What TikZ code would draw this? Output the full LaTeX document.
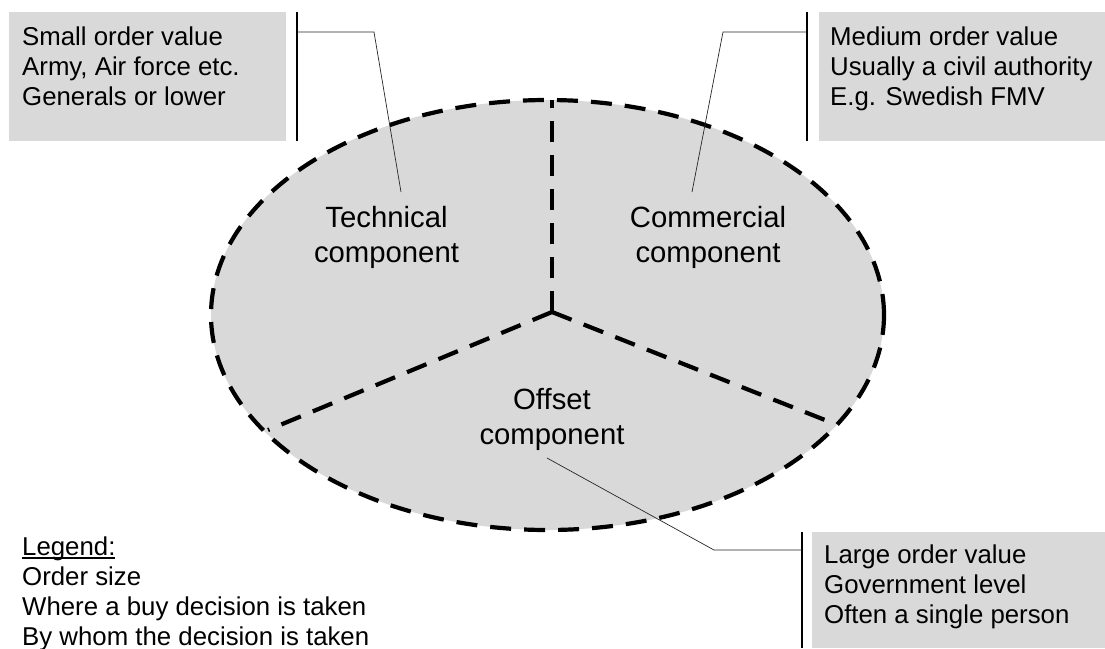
\documentclass[tikz,border=0pt]{standalone}
\usepackage{fontspec}
\setmainfont{Liberation Sans}
\definecolor{boxgray}{HTML}{D9D9D9}
\tikzset{
  infobox/.style={fill=boxgray, draw=none, inner sep=0pt, anchor=north west},
  infotext/.style={anchor=north west, inner sep=0pt, align=left, font=\fontsize{25.8}{30}\selectfont},
  comptext/.style={anchor=north, inner sep=0pt, align=center, font=\fontsize{29.3}{35}\selectfont},
  bigdash/.style={line width=4.2pt, dash pattern=on 21pt off 13pt},
  leader/.style={line width=0.7pt, black!85},
  bar/.style={line width=1.6pt, black},
}
\newcommand{\topstrut}[1]{\rule{0pt}{#1}}
\begin{document}
\begin{tikzpicture}[x=1pt,y=-1pt]
\useasboundingbox (0,0) rectangle (1105,648);
% ellipse
\fill[boxgray] (547.5,315) ellipse [x radius=336.5pt, y radius=215pt];
\coordinate (ctr) at (552,312);
\coordinate (top) at (552,100.2);
\coordinate (lend) at (268,430);
\coordinate (rend) at (825,420);
\draw[bigdash] (ctr) -- (top);
\draw[bigdash] (ctr) -- (lend);
\draw[bigdash] (ctr) -- (rend);
\draw[bigdash] (547.5,315) ellipse [x radius=336.5pt, y radius=215pt];
% component texts
\node[comptext] (tech) at (386.5,206) {\topstrut{21pt}Technical\\component};
\node[comptext] (comm) at (708,206) {\topstrut{21pt}Commercial\\component};
\node[comptext] (offs) at (552,388) {\topstrut{21pt}Offset\\component};
% boxes
\node[infobox, minimum width=277pt, minimum height=129pt] (tlbox) at (9,12) {};
\node[infotext] (tltext) at (22,25) {\topstrut{20pt}Small order value\\Army, Air force etc.\\Generals or lower};
\node[infobox, minimum width=286pt, minimum height=129pt] (trbox) at (819,12) {};
\node[infotext] (trtext) at (830,25) {\topstrut{20pt}Medium order value\\Usually a civil authority\\E.g. Swedish FMV};
\node[infobox, minimum width=293pt, minimum height=116pt] (brbox) at (812,532) {};
\node[infotext] (brtext) at (824,543) {\topstrut{20pt}Large order value\\Government level\\Often a single person};
% legend
\node[infotext] (legend) at (22,535) {\topstrut{20pt}\rlap{\rule[-3.5pt]{93pt}{1.3pt}}Legend:\\Order size\\Where a buy decision is taken\\By whom the decision is taken};
% bars
\coordinate (tlbar1) at (297,12);
\coordinate (tlbar2) at (297,141);
\draw[bar] (tlbar1) -- (tlbar2);
\coordinate (trbar1) at (807,12);
\coordinate (trbar2) at (807,141);
\draw[bar] (trbar1) -- (trbar2);
\coordinate (brbar1) at (802,532);
\coordinate (brbar2) at (802,648);
\draw[bar] (brbar1) -- (brbar2);
% leaders
\coordinate (tla) at (297,32);
\coordinate (tlb) at (374,32);
\coordinate (tlc) at (401,192);
\draw[leader] (tla) -- (tlb) -- (tlc);
\coordinate (tra) at (807,32);
\coordinate (trb) at (723,32);
\coordinate (trc) at (692,192);
\draw[leader] (tra) -- (trb) -- (trc);
\coordinate (bra) at (802,550);
\coordinate (brb) at (714,550);
\coordinate (brc) at (547,458);
\draw[leader] (bra) -- (brb) -- (brc);
\end{tikzpicture}
\end{document}
